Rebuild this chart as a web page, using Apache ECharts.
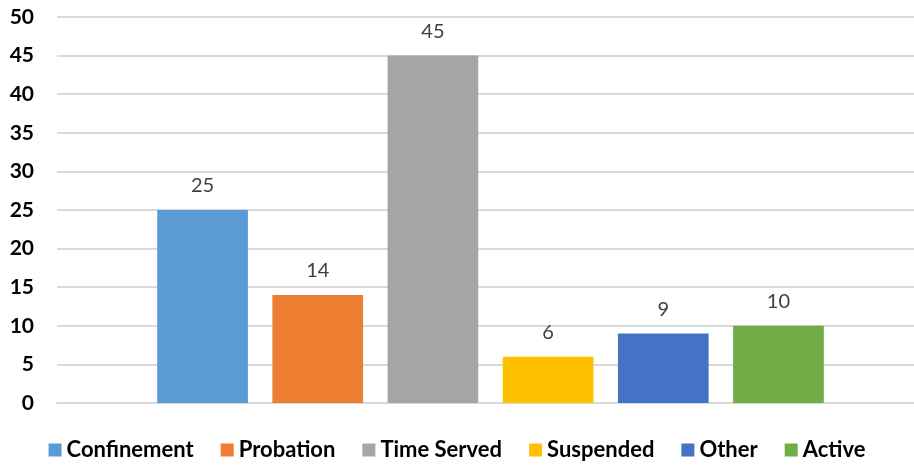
<!DOCTYPE html>
<html>
<head>
<meta charset="utf-8">
<script src="https://cdn.jsdelivr.net/npm/echarts@6/dist/echarts.min.js"></script>
<style>
  html, body { margin: 0; padding: 0; background: #fff; }
  #chart { width: 914px; height: 466px; }
</style>
</head>
<body>
<div id="chart"></div>
<script>
var seriesNames = ['Confinement', 'Probation', 'Time Served', 'Suspended', 'Other', 'Active'];
var seriesValues = [25, 14, 45, 6, 9, 10];
var seriesColors = ['#5B9BD5', '#ED7D31', '#A5A5A5', '#FFC000', '#4472C4', '#70AD47'];
var yTicks = { min: 0, max: 50, interval: 5 };

var chart = echarts.init(document.getElementById('chart'));

// bars sit in a second grid, shifted a bit right like the original plot
var series = seriesNames.map(function (name, i) {
    return {
        name: name,
        type: 'bar',
        xAxisIndex: 1,
        yAxisIndex: 1,
        data: [seriesValues[i]],
        barGap: '27%',
        barCategoryGap: '21.3%',
        itemStyle: { color: seriesColors[i] },
        label: {
            show: true,
            position: 'top',
            distance: 14,
            color: '#404040',
            fontSize: 20,
            fontFamily: 'Lato'
        }
    };
});

var option = {
    animation: false,
    color: seriesColors,
    grid: [
        { left: 57, right: 0, top: 17, bottom: 63 },
        { left: 67, right: 0, top: 17, bottom: 63 }
    ],
    legend: {
        bottom: 0,
        left: 'center',
        itemWidth: 13,
        itemHeight: 13,
        itemGap: 27,
        icon: 'rect',
        textStyle: { fontSize: 22, fontWeight: 'bold', color: '#000', fontFamily: 'Lato' },
        data: seriesNames
    },
    xAxis: [
        {
            gridIndex: 0,
            type: 'category',
            data: [''],
            axisLine: { show: true, lineStyle: { color: '#D9D9D9', width: 2 } },
            axisTick: { show: false },
            axisLabel: { show: false }
        },
        {
            gridIndex: 1,
            type: 'category',
            data: [''],
            axisLine: { show: false },
            axisTick: { show: false },
            axisLabel: { show: false }
        }
    ],
    yAxis: [
        {
            gridIndex: 0,
            type: 'value',
            min: yTicks.min,
            max: yTicks.max,
            interval: yTicks.interval,
            axisLine: { show: false },
            axisTick: { show: false },
            axisLabel: { margin: 23, fontSize: 21, fontWeight: 'bold', color: '#000', fontFamily: 'Lato' },
            splitLine: { lineStyle: { color: '#D9D9D9', width: 2 } }
        },
        {
            gridIndex: 1,
            type: 'value',
            min: yTicks.min,
            max: yTicks.max,
            interval: yTicks.interval,
            show: false
        }
    ],
    series: series
};

chart.setOption(option);
</script>
</body>
</html>
